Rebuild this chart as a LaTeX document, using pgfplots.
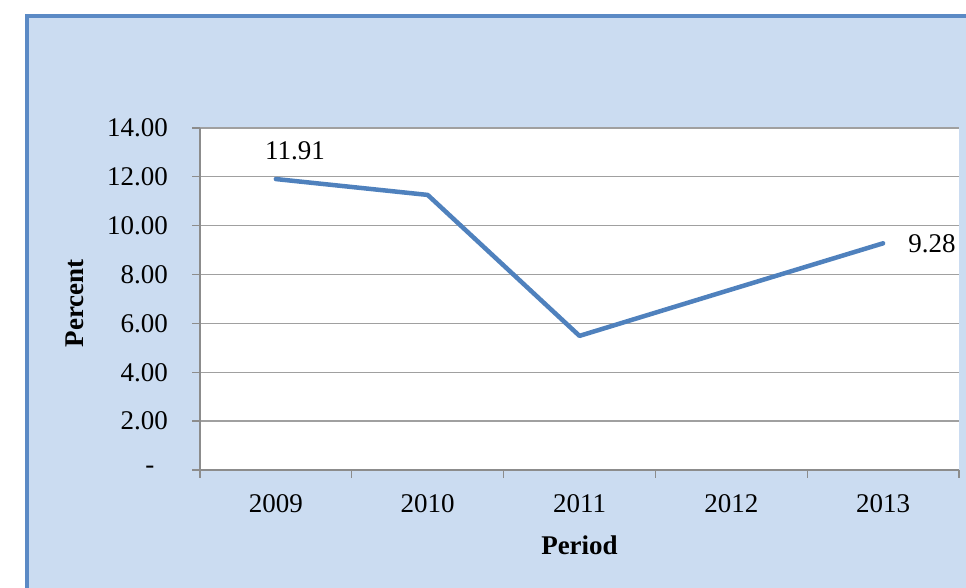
\documentclass[border=0pt]{standalone}
\usepackage{fontspec}
\setmainfont{Liberation Serif}
\usepackage{pgfplots}
\pgfplotsset{compat=1.18}
\definecolor{bgblue}{HTML}{CBDCF1}
\definecolor{frameblue}{HTML}{5B8AC5}
\definecolor{lineblue}{HTML}{4F81BD}
\definecolor{axgray}{HTML}{8C8C8C}
\definecolor{gridgray}{HTML}{A0A0A0}
\begin{document}
\fontsize{27}{32}\selectfont
\begin{tikzpicture}[x=1pt,y=1pt]
\useasboundingbox (0,0) rectangle (966,588);
\begin{scope}
\clip (0,0) rectangle (966,588);
\fill[white] (0,0) rectangle (966,588);
\filldraw[fill=bgblue, draw=frameblue, line width=4.5pt] (27,-20) rectangle (1000,572);
\end{scope}
\begin{axis}[
  at={(200pt,118pt)}, anchor=south west,
  scale only axis, width=759pt, height=342pt,
  xmin=-0.5, xmax=4.5, ymin=0, ymax=14,
  axis background/.style={fill=white},
  axis x line*=bottom, axis y line*=left,
  axis line style={draw=axgray, line width=1.3pt},
  ytick={0,2,...,14},
  yticklabels={-\hphantom{0},2.00,4.00,6.00,8.00,10.00,12.00,14.00},
  xtick={0,1,2,3,4},
  xticklabels={2009,2010,2011,2012,2013},
  extra x ticks={-0.5,0.5,1.5,2.5,3.5,4.5},
  extra x tick labels={},
  extra x tick style={xtick style={draw=axgray, line width=1.3pt}, grid=none},
  tick align=outside,
  major tick length=8pt,
  tick style={draw=axgray, line width=1.3pt},
  xtick style={draw=none},
  ymajorgrids, grid style={draw=gridgray, line width=1.3pt},
  ticklabel style={font=\fontsize{27}{32}\selectfont, text=black},
  yticklabel style={xshift=-15pt},
  xticklabel style={yshift=-7pt},
  xlabel={\textbf{Period}}, ylabel={\textbf{Percent}},
  label style={font=\fontsize{27}{32}\selectfont},
  xlabel style={at={(axis description cs:0.5,-0.22)}, anchor=center},
  ylabel style={at={(axis description cs:-0.165,0.488)}, anchor=center, rotate=0},
  clip=false,
]
\addplot[lineblue, line width=4.5pt, line join=round, line cap=round] coordinates {
  (0,11.91) (1,11.26) (2,5.49) (3,7.39) (4,9.28)
};
\addplot[draw=none, nodes near coords={\pgfplotspointmeta}, point meta=explicit symbolic,
  nodes near coords style={anchor=south, xshift=19pt, yshift=10pt, font=\fontsize{27}{32}\selectfont, text=black}]
  coordinates {(0,11.91) [11.91]};
\addplot[draw=none, nodes near coords={\pgfplotspointmeta}, point meta=explicit symbolic,
  nodes near coords style={anchor=west, xshift=16pt, yshift=0pt, font=\fontsize{27}{32}\selectfont, text=black}]
  coordinates {(4,9.28) [9.28]};
\end{axis}
\end{tikzpicture}
\end{document}
